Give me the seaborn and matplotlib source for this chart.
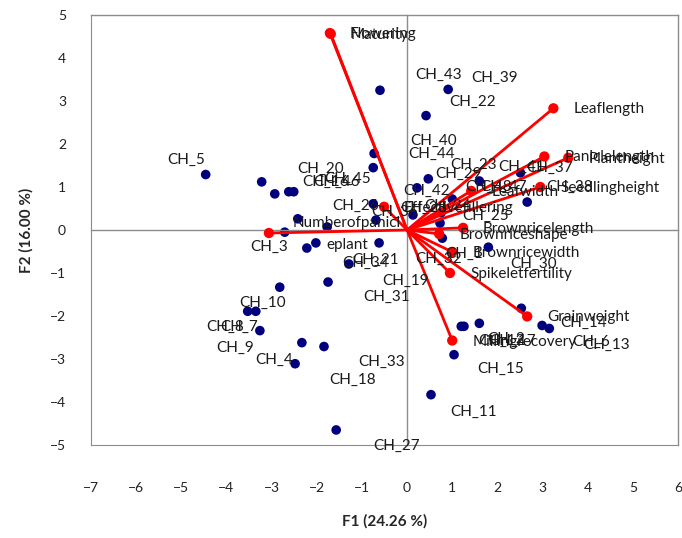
import numpy as np
import pandas as pd
import seaborn as sns
import matplotlib.pyplot as plt

# observations (F1, F2 scores)
obs_names = ["CH_5", "CH_20", "CH_16", "CH_45", "CH_46", "CH_26", "CH_36", "CH_3",
             "CH_43", "CH_40", "CH_44", "CH_42", "CH_28", "CH_39", "CH_22", "CH_23",
             "CH_29", "CH_41", "CH_37", "CH_38", "CH_48", "CH_47", "CH_25", "CH_24",
             "CH_1", "CH_30", "CH_32", "CH_15", "CH_11", "CH_12", "CH_17", "CH_2",
             "CH_14", "CH_6", "CH_13", "CH_34", "CH_21", "CH_19", "CH_31", "CH_10",
             "CH_8", "CH_7", "CH_9", "CH_18", "CH_33", "CH_4", "CH_27"]
obs_f1 = [-4.46, -3.22, -2.93, -2.62, -2.51, -2.42, -1.77, -2.71,
          -0.60, -0.73, -0.75, -0.75, -0.69, 0.91, 0.42, 0.47,
          0.22, 1.60, 2.51, 2.66, 1.00, 0.75, 0.73, 0.13,
          0.78, 1.80, -0.62, 1.04, 0.53, 1.20, 1.26, 1.60,
          2.53, 2.99, 3.15, -2.22, -2.02, -1.29, -1.75, -2.82,
          -3.53, -3.35, -3.26, -2.33, -1.84, -2.48, -1.57]
obs_f2 = [1.29, 1.12, 0.84, 0.89, 0.89, 0.26, 0.07, -0.05,
          3.25, 1.78, 1.45, 0.61, 0.23, 3.27, 2.66, 1.19,
          0.98, 1.14, 1.33, 0.65, 0.72, 0.40, 0.16, 0.35,
          -0.19, -0.40, -0.30, -2.90, -3.83, -2.24, -2.24, -2.17,
          -1.82, -2.22, -2.29, -0.42, -0.30, -0.79, -1.21, -1.33,
          -1.89, -1.89, -2.34, -2.62, -2.71, -3.11, -4.65]

# variables (loadings, scaled)
var_names = ["Flowering", "Maturity", "Leaflength", "Paniclelength", "Plantheight",
             "Seedlingheight", "Leafwidth", "Effectivetillering", "Numberofpanicl\neplant",
             "Brownricelength", "Brownriceshape", "Brownricewidth", "Spikeletfertility",
             "Grainweight", "Millingrecovery"]
var_f1 = [-1.71, -1.69, 3.24, 3.04, 3.57, 2.95, 1.42, -0.51, -3.06,
          1.24, 0.71, 1.00, 0.95, 2.66, 1.00]
var_f2 = [4.58, 4.56, 2.83, 1.71, 1.68, 1.00, 0.91, 0.54, -0.07,
          0.05, -0.09, -0.51, -1.00, -2.01, -2.57]

# label offsets in pixels (right, down)
obs_off = [(-20, -15), (59, -13), (51, -12), (59, -13), (43, -10), (58, -13), (67, -15), (-16, 15),
           (59, -15), (59, -13), (58, -14), (53, -13), (48, -12), (46, -12), (47, -14), (45, -14),
           (42, -14), (42, -14), (29, -5), (42, -15), (36, -12), (63, -26), (46, -7), (35, -9),
           (22, 16), (45, 17), (59, 16), (47, 14), (43, 17), (40, 15), (49, 15), (27, 16),
           (62, 15), (49, 16), (57, 16), (59, 15), (60, 17), (57, 17), (59, 15), (-17, 16),
           (-23, 16), (-17, 16), (-25, 17), (51, 37), (58, 15), (-21, -4), (60, 16)]

xticks = list(range(-7, 7))
yticks = list(range(-5, 6))

obs = pd.DataFrame({"F1": obs_f1, "F2": obs_f2, "name": obs_names})
var = pd.DataFrame({"F1": var_f1, "F2": var_f2, "name": var_names})

sns.set_style("white")
plt.rcParams["font.family"] = ["Lato", "DejaVu Sans"]

fig = plt.figure(figsize=(6.82, 5.38), dpi=100)
ax = fig.add_axes([91 / 682, 1 - 445 / 538, (678 - 91) / 682, (445 - 15) / 538])

gray = "#8c8c8c"
ax.set_xlim(-7, 6)
ax.set_ylim(-5, 5)

# axes through origin with crossing ticks
ax.spines["left"].set_position(("data", 0))
ax.spines["bottom"].set_position(("data", 0))
for s in ax.spines.values():
    s.set_color(gray)
    s.set_linewidth(1)
ax.set_xticks(xticks)
ax.set_yticks(yticks)
ax.tick_params(direction="inout", length=9, width=1, color=gray,
               labelbottom=False, labelleft=False)

# outer frame + tick labels
secx = ax.secondary_xaxis(0)
secx.set_xticks(xticks)
secx.tick_params(length=0, pad=27, labelsize=10, labelcolor="#222222")
secx.spines["bottom"].set_color(gray)
secy = ax.secondary_yaxis(0)
secy.set_yticks(yticks)
secy.tick_params(length=0, pad=18, labelsize=10, labelcolor="#222222")
secy.spines["left"].set_color(gray)

# variable vectors
for _, r in var.iterrows():
    ax.plot([0, r.F1], [0, r.F2], color="red", lw=2, zorder=3)
sns.scatterplot(data=var, x="F1", y="F2", color="red", s=55, edgecolor="none",
                ax=ax, zorder=4, legend=False)

# observations
sns.scatterplot(data=obs, x="F1", y="F2", color="#00007f", s=48, edgecolor="none",
                ax=ax, zorder=2, legend=False)

for (_, r), (dx, dy) in zip(obs.iterrows(), obs_off):
    ax.annotate(r["name"], (r.F1, r.F2), xytext=(dx, -dy), textcoords="offset pixels",
                ha="center", va="center", fontsize=11, color="#1a1a1a", zorder=5)

for _, r in var.iterrows():
    if "\n" in r["name"]:
        ax.annotate(r["name"], (r.F1, r.F2), xytext=(78, -1), textcoords="offset pixels",
                    ha="center", va="center", fontsize=11, color="#1a1a1a",
                    linespacing=1.75, multialignment="center", zorder=5)
    else:
        ax.annotate(r["name"], (r.F1, r.F2), xytext=(20, -1), textcoords="offset pixels",
                    ha="left", va="center", fontsize=11, color="#1a1a1a", zorder=5)

ax.set_xlabel("")
ax.set_ylabel("")
secx.set_xlabel("F1 (24.26 %)", fontsize=11, fontweight="bold", labelpad=14)
secy.set_ylabel("F2 (16.00 %)", fontsize=11, fontweight="bold", labelpad=12)

fig.savefig("out.png", dpi=100)
